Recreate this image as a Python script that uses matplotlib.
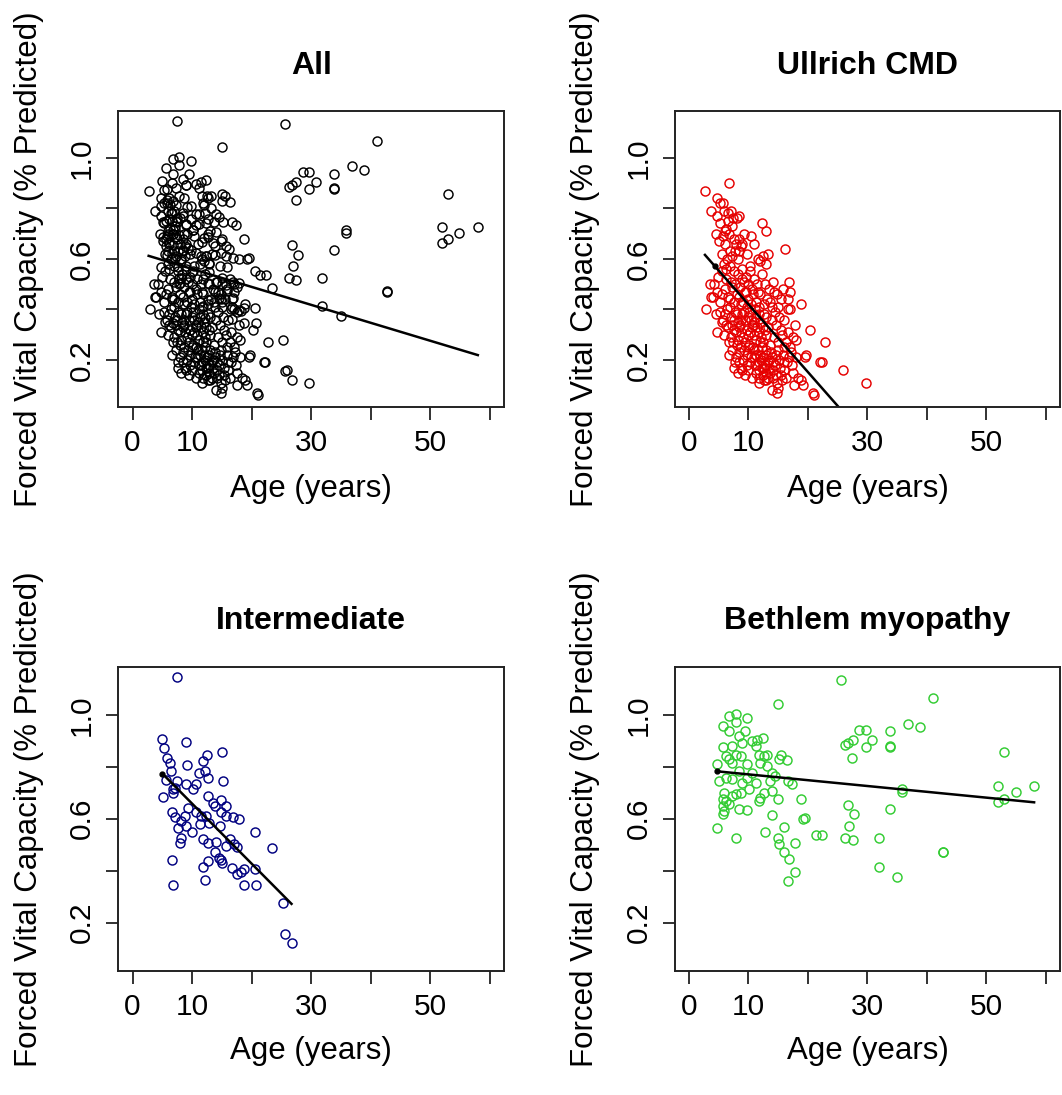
import numpy as np
import matplotlib
matplotlib.use("Agg")
import matplotlib.pyplot as plt

plt.rcParams['font.family'] = ['Liberation Sans', 'DejaVu Sans']

# (age, fvc), one list per group
ullrich = [
    (2.7, .87), (6.7, .90), (4.7, .84), (5.3, .82), (3.7, .79), (4.8, .77), (5.9, .79), (7.0, .79),
    (8.4, .77), (8.0, .76), (12.3, .74), (13.0, .71), (16.2, .64), (5.2, .74), (6.3, .72), (6.8, .70),
    (5.7, .69), (5.1, .67), (4.6, .70), (6.1, .66), (7.2, .73), (6.6, .75), (6.0, .71), (7.5, .68),
    (9.2, .70), (8.4, .68), (8.8, .65), (10.4, .69), (8.5, .63), (9.0, .66), (11.0, .66),
    (12.4, .61), (12.0, .59), (12.9, .58), (11.6, .60), (13.3, .62), (5.5, .62), (6.4, .60),
    (7.3, .61), (8.2, .60), (7.7, .63), (9.7, .62),
    (3.6, .50), (4.2, .50), (4.9, .53), (5.5, .55), (6.2, .56), (6.9, .57), (7.6, .55), (8.3, .54),
    (9.0, .56), (9.6, .53), (10.3, .57), (10.9, .52), (11.5, .50), (12.2, .54), (12.8, .50),
    (13.5, .48), (14.1, .51), (16.8, .51), (17.0, .47), (16.7, .44), (14.8, .46), (15.5, .44),
    (4.0, .45), (4.7, .47), (5.3, .43), (6.0, .48), (6.6, .45), (7.3, .49), (8.0, .46), (8.7, .42),
    (9.4, .47), (10.0, .44), (10.6, .48), (11.3, .43), (11.9, .46), (12.6, .42), (13.2, .44),
    (13.9, .41), (18.9, .42), (17.0, .40), (16.6, .40), (15.0, .41),
    (2.9, .40), (3.7, .45), (4.5, .38), (5.2, .39), (5.8, .36), (6.4, .40), (7.1, .37), (7.7, .39),
    (8.3, .35), (8.9, .38), (9.5, .36), (10.1, .39), (10.7, .34), (11.3, .37), (12.0, .35),
    (12.6, .38), (13.3, .33), (14.0, .36), (14.7, .34), (15.4, .32), (4.8, .31), (5.9, .30),
    (6.5, .33), (7.0, .29), (7.6, .32), (8.2, .28), (8.8, .31), (9.4, .27), (10.0, .30), (10.6, .33),
    (11.2, .28), (11.8, .31), (12.4, .27), (13.0, .30), (13.6, .26), (14.3, .29), (15.0, .27),
    (15.7, .30), (16.3, .27), (17.0, .25), (18.0, .28), (20.3, .32), (22.8, .27), (17.5, .29),
    (5.5, .35), (6.8, .27), (8.6, .34), (9.9, .25), (11.6, .24), (13.8, .23),
    (6.7, .22), (7.3, .24), (7.9, .21), (8.5, .23), (9.1, .20), (9.7, .22), (10.3, .19), (10.9, .21),
    (11.5, .18), (12.1, .20), (12.7, .17), (13.3, .19), (13.9, .21), (14.5, .18), (15.1, .20),
    (15.8, .22), (16.5, .19), (17.2, .23), (18.0, .21), (19.5, .21), (19.7, .22), (22.0, .19),
    (22.3, .19), (25.9, .16), (29.7, .11),
    (7.6, .17), (8.2, .15), (8.8, .17), (9.4, .14), (10.0, .16), (10.6, .13), (11.2, .15),
    (11.8, .13), (12.4, .14), (13.0, .12), (13.6, .15), (14.2, .13), (14.8, .11), (15.4, .14),
    (16.0, .16), (17.5, .15), (18.4, .13), (18.9, .12), (19.2, .10), (11.7, .11), (14.0, .08),
    (14.8, .07), (15.0, .09), (20.9, .07), (21.1, .06), (17.6, .10), (12.0, .22), (11.0, .24),
    (13.0, .24), (12.5, .21), (11.8, .19), (12.8, .18),
    (6.3, .52), (7.0, .51), (7.8, .50), (8.6, .49), (9.3, .51), (10.0, .50), (10.8, .46), (11.6, .47),
    (5.6, .46), (6.9, .44), (7.6, .43), (8.4, .45), (9.1, .43), (9.8, .41), (10.4, .42), (11.1, .40),
    (11.7, .41), (6.1, .38), (6.9, .41), (7.5, .36), (8.1, .38), (8.7, .36), (9.2, .39), (9.9, .37),
    (10.4, .36), (11.0, .35), (11.8, .38), (6.2, .34), (7.3, .34), (7.9, .31), (8.5, .33), (9.1, .29),
    (9.7, .32), (10.3, .31), (10.9, .30), (11.5, .33), (12.1, .29), (12.8, .32), (7.4, .27), (8.0, .26),
    (8.7, .25), (9.3, .24), (10.1, .26), (10.7, .25), (11.3, .22), (12.2, .25), (12.9, .22), (13.5, .20),
    (14.1, .19), (14.7, .22), (15.3, .17), (16.0, .19), (10.5, .21), (11.1, .18), (11.7, .16),
    (12.3, .17), (12.9, .15), (13.5, .17), (14.1, .16), (14.6, .14), (15.6, .12), (16.3, .13),
    (13.3, .13), (12.7, .12), (9.7, .18), (9.0, .16), (8.4, .19), (7.7, .19), (16.9, .21), (17.3, .18),
    (15.9, .25), (14.9, .24), (16.6, .31), (17.8, .34), (16.0, .36), (15.2, .37), (14.4, .39),
    (13.6, .43), (14.3, .47), (15.8, .48), (13.0, .37), (12.4, .33), (11.9, .27), (9.6, .47),
    (8.9, .52), (10.2, .55), (5.9, .58), (6.9, .63), (7.9, .66), (6.6, .78), (5.8, .82), (7.4, .76),
]

intermediate = [
    (7.4, 1.147), (5.0, .907), (5.3, .872), (8.9, .894), (5.85, .834), (6.35, .815), (9.2, .806),
    (6.5, .783), (5.6, .749), (7.4, .745), (8.9, .732), (6.8, .713), (7.1, .72), (5.1, .685),
    (11.8, .821), (12.5, .847), (12.1, .783), (11.1, .777), (12.7, .758), (10.7, .732), (10.1, .713),
    (15.0, .857), (15.2, .745), (9.3, .643), (12.7, .687), (13.5, .662), (14.9, .672), (15.7, .649),
    (13.9, .649), (6.6, .624), (7.2, .605), (8.2, .592), (8.75, .611), (10.7, .624), (11.5, .611),
    (12.4, .611), (14.9, .624), (16.8, .605), (17.9, .598), (15.7, .611), (7.6, .566), (9.0, .573),
    (11.3, .579), (12.9, .585), (14.7, .573), (10.0, .547), (8.2, .524), (7.9, .505), (11.8, .522),
    (12.7, .505), (14.0, .509), (16.3, .522), (17.1, .502), (17.5, .49), (15.7, .496), (20.6, .55),
    (23.4, .486), (6.7, .442), (13.8, .47), (14.5, .447), (15.1, .43), (12.7, .439), (11.8, .413),
    (16.7, .409), (17.5, .388), (18.2, .394), (18.8, .407), (20.6, .407), (12.2, .365), (6.8, .345),
    (18.8, .345), (20.8, .345), (25.2, .277), (25.6, .158), (26.7, .122), (6.8, .70), (14.9, .44),
]

bethlem = [
    (25.6, 1.134), (41.0, 1.066), (14.95, 1.042), (7.86, 1.004), (6.75, .994), (9.8, .988),
    (5.65, .958), (7.86, .971), (6.75, .936), (9.5, .936), (8.4, .917), (5.8, .876), (7.3, .879),
    (9.0, .892), (10.6, .898), (11.5, .904), (12.4, .911), (11.2, .879), (6.2, .840), (6.75, .828),
    (7.86, .847), (8.7, .840), (7.3, .815), (4.8, .809), (11.7, .847), (12.6, .84), (13.1, .847),
    (12.0, .815), (15.1, .828), (15.5, .847), (16.4, .825), (9.8, .809), (8.4, .783), (10.6, .777),
    (13.1, .802), (14.0, .777), (5.1, .745), (6.2, .758), (7.3, .751), (8.9, .738), (9.8, .758),
    (11.2, .738), (13.7, .745), (14.5, .764), (16.7, .745), (17.3, .732), (10.1, .713), (8.7, .700),
    (12.6, .70), (14.0, .707), (5.9, .700), (5.65, .677), (6.2, .668), (7.3, .687), (7.86, .694),
    (12.0, .681), (11.7, .668), (15.0, .677), (18.8, .677), (5.65, .649), (5.9, .63), (5.75, .617),
    (6.75, .655), (8.4, .636), (9.8, .634), (13.9, .615), (19.5, .604), (19.2, .60), (4.8, .566),
    (7.86, .524), (12.85, .547), (15.9, .569), (15.0, .524), (15.1, .502), (15.9, .473), (17.9, .505),
    (16.8, .445), (17.9, .396), (16.7, .362), (21.4, .537), (22.4, .537), (26.2, .524), (27.5, .518),
    (26.9, .573), (26.8, .653), (27.8, .617), (31.9, .524), (31.9, .413), (33.8, .636), (35.0, .375),
    (35.8, .713), (35.8, .703), (42.7, .470), (42.7, .473), (26.2, .885), (26.8, .892), (27.5, .904),
    (27.4, .832), (28.6, .942), (29.7, .942), (29.7, .876), (30.8, .904), (33.8, .936), (33.8, .881),
    (33.8, .875), (36.8, .966), (38.9, .953), (53.0, .856), (51.9, .726), (51.9, .664), (53.0, .677),
    (54.9, .703), (58.0, .726),
]

titles = ["All", "Ullrich CMD", "Intermediate", "Bethlem myopathy"]
colors = ["black", "#e60000", "#000080", "#33cc33"]
# fitted lines: intercept, slope, age of the marked point (None = no point)
fit_intercept = [0.631, 0.688, 0.889, 0.793]
fit_slope = [-0.0071, -0.0268, -0.0231, -0.00224]
fit_dot_age = [None, 4.4, 5.0, 4.8]

x_ticks = [0, 10, 20, 30, 40, 50, 60]
x_labels = ["0", "10", "", "30", "", "50", ""]
y_ticks = [0.2, 0.4, 0.6, 0.8, 1.0]
y_labels = ["0.2", "", "0.6", "", "1.0"]

groups = [ullrich + intermediate + bethlem, ullrich, intermediate, bethlem]

fig = plt.figure(figsize=(10.62, 10.95), dpi=100)
W, H = 1062, 1095
boxes = [(118.3, 111, 406.7), (674.6, 111, 406.7), (118.3, 666.7, 970.7), (674.6, 666.7, 970.7)]
box_w = 385.7

for i in range(4):
    left, top, bottom = boxes[i]
    ax = fig.add_axes([left / W, (H - bottom) / H, box_w / W, (bottom - top) / H])
    age, fvc = np.array(groups[i]).T
    ax.plot(age, fvc, linestyle='none', marker='o', markersize=6.5,
            markerfacecolor='none', markeredgecolor=colors[i], markeredgewidth=1.05)

    xs = np.array([age.min(), age.max()])
    ax.plot(xs, fit_intercept[i] + fit_slope[i] * xs, color='black', lw=1.8)
    if fit_dot_age[i] is not None:
        d = fit_dot_age[i]
        ax.plot([d], [fit_intercept[i] + fit_slope[i] * d], 'o', color='black', markersize=3.5)

    ax.set_xlim(-2.4, 62.4)
    ax.set_ylim(0.015, 1.185)
    ax.set_xticks(x_ticks)
    ax.set_xticklabels(x_labels)
    ax.set_yticks(y_ticks)
    ax.set_yticklabels(y_labels, rotation=90, va='center')
    ax.tick_params(direction='out', length=9, width=1.3, labelsize=21.5, color='#222222')
    ax.tick_params(axis='x', pad=7)
    ax.tick_params(axis='y', pad=7)
    for s in ax.spines.values():
        s.set_linewidth(1.4)
        s.set_color('#222222')

    ax.set_title(titles[i], fontsize=23, fontweight='bold', pad=27)
    ax.set_xlabel("Age (years)", fontsize=22.5)
    ax.set_ylabel("Forced Vital Capacity (% Predicted)", fontsize=22.5)
    h = bottom - top
    ax.xaxis.set_label_coords(0.5, -(1051 - 970.7 if i > 1 else 489 - 406.7) / h)
    ax.xaxis.label.set_va('center')
    ax.yaxis.set_label_coords(-0.232, 0.5)
    ax.yaxis.label.set_va('center')

fig.savefig("out.png", dpi=100, facecolor='white')
